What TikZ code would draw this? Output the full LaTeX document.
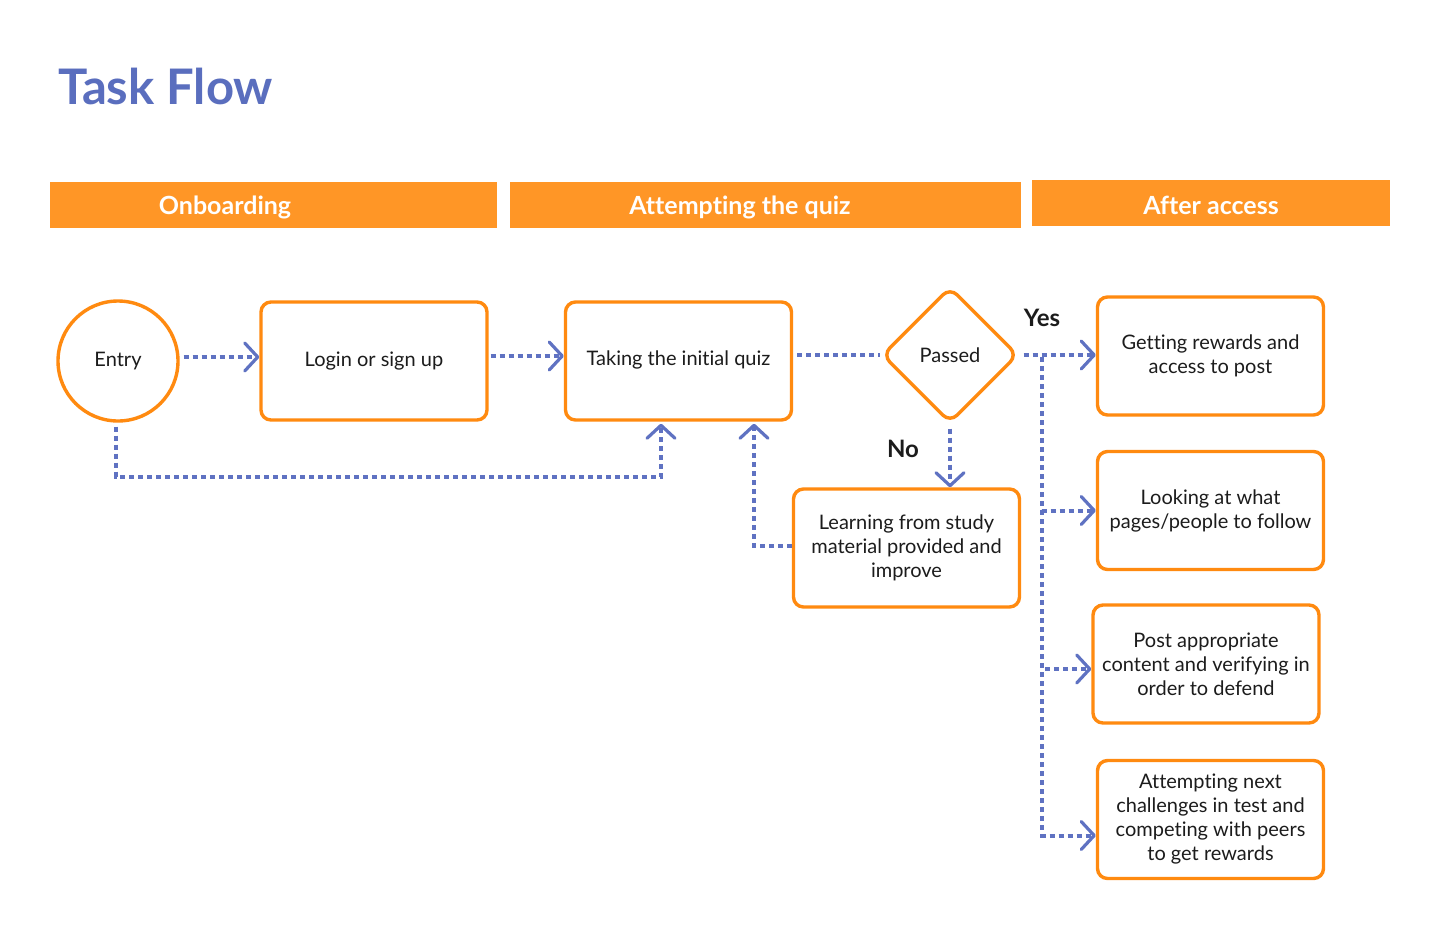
\documentclass[tikz,border=0pt]{standalone}
\usepackage{fontspec}
\setmainfont{Lato}[Ligatures=NoCommon]
\usetikzlibrary{arrows.meta,shapes.geometric}
\definecolor{orng}{HTML}{FF8A10}
\definecolor{hdr}{HTML}{FF9626}
\definecolor{blu}{HTML}{5F72C2}
\definecolor{ttl}{HTML}{5A6EBE}
\definecolor{txt}{HTML}{1C1C1C}
\begin{document}
\begin{tikzpicture}[x=0.5pt,y=-0.5pt,
 box/.style={draw=orng,line width=1.7pt,rounded corners=5pt,minimum width=113pt,minimum height=59pt,align=center,font=\fontsize{10}{12}\selectfont,text=txt,inner sep=2pt},
 hdrbox/.style={fill=hdr,anchor=north west,inner sep=0pt,minimum height=23pt},
 hdrtxt/.style={text=white,font=\fontsize{12.5}{14}\selectfont\bfseries},
 conn/.style={draw=blu,line width=2pt,dash pattern=on 2.6pt off 1.9pt,-{Straight Barb[length=6.5pt,width=14pt,line width=1.6pt,round]}},
 plain/.style={draw=blu,line width=2pt,dash pattern=on 2.6pt off 1.9pt},
 lbl/.style={font=\fontsize{12}{14}\selectfont\bfseries,text=txt}]
\useasboundingbox (0,0) rectangle (1440,938);
\fill[white] (0,0) rectangle (1440,938);

\node[anchor=west,text=ttl,font=\fontsize{24.5}{30}\selectfont\bfseries] (title) at (51,86) {Task Flow};

\node[hdrbox,minimum width=223.5pt] (h1) at (50,182) {};
\node[hdrbox,minimum width=255.5pt] (h2) at (510,182) {};
\node[hdrbox,minimum width=179pt] (h3) at (1032,180) {};
\node[hdrtxt] (h1t) at (225,207) {Onboarding};
\node[hdrtxt] (h2t) at (740,207) {Attempting the quiz};
\node[hdrtxt] (h3t) at (1211,205) {After access};

\node[circle,draw=orng,line width=1.7pt,minimum size=60pt,inner sep=0pt,font=\fontsize{10}{12}\selectfont,text=txt] (entry) at (118,361) {Entry};
\node[box] (login) at (374,361) {Login or sign up};
\node[box] (quiz) at (678.5,361) {\raisebox{2.5pt}{Taking the initial quiz}};
\node[diamond,draw=orng,line width=1.7pt,rounded corners=5pt,minimum width=68pt,minimum height=68pt,inner sep=0pt,font=\fontsize{10}{12}\selectfont,text=txt] (passed) at (950,355) {Passed};
\node[box] (learn) at (906.5,548) {Learning from study\\material provided and\\improve};
\node[box] (rew) at (1210.5,356) {Getting rewards and\\access to post};
\node[box] (look) at (1210.5,510.5) {Looking at what\\pages/people to follow};
\node[box] (post) at (1206,664) {Post appropriate\\content and verifying in\\order to defend};
\node[box] (att) at (1210.5,819.5) {Attempting next\\challenges in test and\\competing with peers\\to get rewards};

\node[lbl] (yes) at (1042,318) {Yes};
\node[lbl] (no) at (903,449) {No};

\draw[conn] ([xshift=2pt,yshift=2pt]entry.east) -- ([yshift=2pt]login.west);
\draw[conn] ([xshift=1pt,yshift=2.5pt]login.east) -- ([yshift=2.5pt]quiz.west);
\draw[plain] ([xshift=2pt]quiz.east |- passed.west) -- (passed.west);
\draw[conn] ([xshift=2pt]passed.east) -- (passed.east -| rew.west);
\coordinate (br) at (1042,357);
\draw[conn] (br) |- (look.west);
\draw[conn] (br) |- ([yshift=-2.5pt]post.west);
\draw[conn] (br) |- ([yshift=-8pt]att.west);
\draw[conn] ([yshift=-2pt]passed.south) -- (passed.south |- learn.north);
\draw[conn] ([yshift=1pt]learn.west) -| ([xshift=37.75pt,yshift=-1pt]quiz.south);
\draw[conn] ([xshift=-1pt,yshift=-2pt]entry.south) -- ++(0,50) -| ([xshift=-8.75pt,yshift=-1pt]quiz.south);
\end{tikzpicture}
\end{document}
